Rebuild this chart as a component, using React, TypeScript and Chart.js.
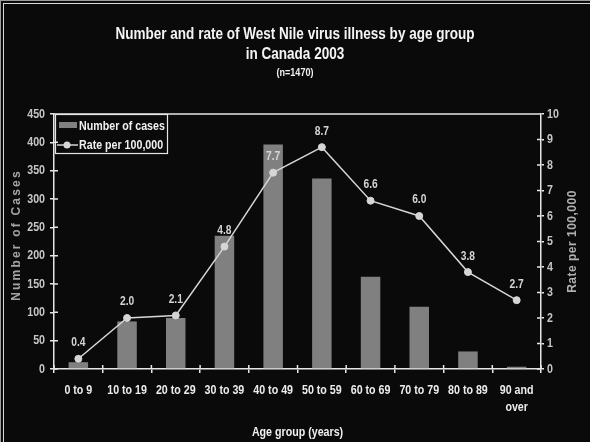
import { useEffect, useRef } from 'react';
import { Chart, registerables } from 'chart.js';

Chart.register(...registerables);

// Age groups, case counts and incidence rates (per 100,000)
const ageGroups: (string | string[])[] = [
  '0 to 9',
  '10 to 19',
  '20 to 29',
  '30 to 39',
  '40 to 49',
  '50 to 59',
  '60 to 69',
  '70 to 79',
  '80 to 89',
  ['90 and', 'over'],
];
const caseCounts = [12, 84, 90, 235, 396, 336, 163, 110, 31, 4];
const ratePer100k = [0.4, 2.0, 2.1, 4.8, 7.7, 8.7, 6.6, 6.0, 3.8, 2.7];

const titleLines = ['Number and rate of West Nile virus illness by age group', 'in Canada 2003'];
const subtitleText = '(n=1470)';
const casesAxisTitle = 'Number of Cases';
const rateAxisTitle = 'Rate per 100,000';
const ageAxisTitle = 'Age group (years)';
const legendLabels = ['Number of cases', 'Rate per 100,000'];

const casesMax = 450;
const casesStep = 50;
const rateMax = 10;
const rateStep = 1;

const SANS = '"Liberation Sans", Arial, sans-serif';
// horizontal squeeze applied to canvas text to get a narrow face
const NARROW_FACTOR = 0.82;
const BG = '#0a0a0a';
const AXIS = '#e6e6e6';
const BAR = '#808080';
const LINE = '#d6d6d6';
const TICK_TEXT = '#c6c6c6';
const LABEL_TEXT = '#ececec';

// Draws every fillText condensed, through the maxWidth argument
function useNarrowText(ctx: any) {
  if (ctx.__narrowText) return;
  ctx.__narrowText = true;
  const base = ctx.fillText.bind(ctx);
  ctx.fillText = (text: string, x: number, y: number, maxWidth?: number) => {
    const f = ctx.textSqueeze ?? NARROW_FACTOR;
    const w = ctx.measureText(text).width * f;
    base(text, x, y, maxWidth == null ? w : Math.min(maxWidth, w));
  };
}

// Frame line on top of the plot plus tick marks that cross into the plot area
const axisFrame = {
  id: 'axisFrame',
  afterDraw(chart: any) {
    const { ctx, chartArea: a, scales } = chart;
    ctx.save();
    ctx.strokeStyle = AXIS;
    ctx.lineWidth = 1.5;
    ctx.beginPath();
    ctx.moveTo(a.left, a.top);
    ctx.lineTo(a.right, a.top);
    for (let i = 0; i <= ageGroups.length; i++) {
      const px = scales.x.getPixelForValue(i - 0.5);
      ctx.moveTo(px, a.bottom);
      ctx.lineTo(px, a.bottom - 4);
    }
    for (let v = 0; v <= casesMax; v += casesStep) {
      const py = scales.y.getPixelForValue(v);
      ctx.moveTo(a.left, py);
      ctx.lineTo(a.left + 4, py);
    }
    for (let v = 0; v <= rateMax; v += rateStep) {
      const py = scales.rate.getPixelForValue(v);
      ctx.moveTo(a.right, py);
      ctx.lineTo(a.right - 4, py);
    }
    ctx.stroke();
    ctx.restore();
  },
};

// Rate values written above each point of the line
const rateLabels = {
  id: 'rateLabels',
  afterDatasetsDraw(chart: any) {
    const { ctx } = chart;
    const meta = chart.getDatasetMeta(0);
    ctx.save();
    ctx.fillStyle = '#d4d4d4';
    ctx.font = `bold 12.5px ${SANS}`;
    ctx.textAlign = 'center';
    ctx.textBaseline = 'middle';
    meta.data.forEach((pt: any, i: number) => {
      ctx.fillText(ratePer100k[i].toFixed(1), pt.x, pt.y - 16);
    });
    ctx.restore();
  },
};

// Boxed legend in the upper-left corner of the plot
const boxedLegend = {
  id: 'boxedLegend',
  afterDraw(chart: any) {
    const { ctx, chartArea: a } = chart;
    const x0 = a.left + 1;
    const y0 = a.top;
    ctx.save();
    ctx.strokeStyle = AXIS;
    ctx.lineWidth = 1.2;
    ctx.strokeRect(x0 + 0.5, y0 + 0.5, 112, 39);

    ctx.fillStyle = BAR;
    ctx.fillRect(x0 + 4, y0 + 8, 18, 6);

    ctx.strokeStyle = LINE;
    ctx.lineWidth = 1.5;
    ctx.beginPath();
    ctx.moveTo(x0 + 2, y0 + 31);
    ctx.lineTo(x0 + 23, y0 + 31);
    ctx.stroke();
    ctx.fillStyle = LINE;
    ctx.beginPath();
    ctx.arc(x0 + 12, y0 + 31, 3.5, 0, Math.PI * 2);
    ctx.fill();

    ctx.fillStyle = '#f0f0f0';
    ctx.font = `bold 13px ${SANS}`;
    ctx.textAlign = 'left';
    ctx.textBaseline = 'middle';
    ctx.fillText(legendLabels[0], x0 + 24, y0 + 12.5);
    ctx.fillText(legendLabels[1], x0 + 24, y0 + 31);
    ctx.restore();
  },
};

// Rotated titles for both value axes, reading bottom to top
const valueAxisTitles = {
  id: 'valueAxisTitles',
  afterDraw(chart: any) {
    const { ctx, chartArea: a } = chart;
    const cy = (a.top + a.bottom) / 2;
    ctx.save();
    ctx.textSqueeze = 1;
    ctx.textAlign = 'center';
    ctx.textBaseline = 'middle';

    ctx.save();
    ctx.fillStyle = '#a4a4a4';
    ctx.translate(a.left - 37, cy - 6.5);
    ctx.rotate(-Math.PI / 2);
    ctx.font = `bold 12px ${SANS}`;
    ctx.letterSpacing = '2.2px';
    ctx.fillText(casesAxisTitle, 0, 0);
    ctx.restore();

    ctx.save();
    ctx.fillStyle = '#b0b0b0';
    ctx.translate(a.right + 32, cy);
    ctx.rotate(-Math.PI / 2);
    ctx.font = `bold 12px ${SANS}`;
    ctx.letterSpacing = '0.5px';
    ctx.fillText(rateAxisTitle, 0, 0);
    ctx.restore();

    ctx.textSqueeze = undefined;
    ctx.restore();
  },
};

export default function App() {
  const canvasRef = useRef<HTMLCanvasElement | null>(null);

  useEffect(() => {
    const canvas = canvasRef.current;
    if (!canvas) return;
    useNarrowText(canvas.getContext('2d'));
    const tickFont = { family: SANS, size: 13, weight: 'bold' as const };

    const chart = new Chart(canvas, {
      type: 'bar',
      data: {
        labels: ageGroups as any,
        datasets: [
          {
            type: 'line',
            label: legendLabels[1],
            data: ratePer100k,
            yAxisID: 'rate',
            borderColor: LINE,
            borderWidth: 1.5,
            pointRadius: 3.5,
            pointBackgroundColor: LINE,
            pointBorderColor: LINE,
            pointBorderWidth: 1,
            tension: 0,
            order: 0,
          } as any,
          {
            type: 'bar',
            label: legendLabels[0],
            data: caseCounts,
            yAxisID: 'y',
            backgroundColor: BAR,
            borderWidth: 0,
            categoryPercentage: 1,
            barPercentage: 0.4,
            order: 1,
          },
        ],
      },
      options: {
        responsive: false,
        animation: false,
        layout: { padding: 0 },
        plugins: {
          legend: { display: false },
          tooltip: { enabled: false },
          title: {
            display: true,
            text: titleLines,
            color: '#f4f4f4',
            font: { family: SANS, size: 16.5, weight: 'bold', lineHeight: '20px' as any },
            padding: { top: 24, bottom: 3 },
          },
          subtitle: {
            display: true,
            text: subtitleText,
            color: '#f0f0f0',
            font: { family: SANS, size: 11, weight: 'bold', lineHeight: '12px' as any },
            padding: { top: 0, bottom: 35 },
          },
        },
        scales: {
          x: {
            type: 'category',
            offset: true,
            grid: {
              offset: true,
              drawOnChartArea: false,
              drawTicks: true,
              tickLength: 4,
              color: AXIS,
              lineWidth: 1.5,
            },
            border: { display: true, color: AXIS, width: 1.5 },
            ticks: {
              color: LABEL_TEXT,
              font: { ...tickFont, lineHeight: '17px' as any },
              padding: 9,
              maxRotation: 0,
              autoSkip: false,
            },
            title: {
              display: true,
              text: ageAxisTitle,
              color: '#f0f0f0',
              font: { family: SANS, size: 13, weight: 'bold', lineHeight: '13px' as any },
              padding: { top: 0, bottom: 3 },
            },
            afterFit: (s: any) => {
              s.height = 73;
            },
          },
          y: {
            type: 'linear',
            position: 'left',
            min: 0,
            max: casesMax,
            grid: { drawOnChartArea: false, tickLength: 4, color: AXIS, lineWidth: 1.5 },
            border: { display: true, color: AXIS, width: 1.5 },
            ticks: { stepSize: casesStep, color: TICK_TEXT, font: tickFont, padding: 5 },
            afterFit: (s: any) => {
              s.width = 54;
            },
          },
          rate: {
            type: 'linear',
            position: 'right',
            min: 0,
            max: rateMax,
            grid: { drawOnChartArea: false, tickLength: 3, color: AXIS, lineWidth: 1.5 },
            border: { display: true, color: AXIS, width: 1.5 },
            ticks: { stepSize: rateStep, color: TICK_TEXT, font: tickFont, padding: 3 },
            afterFit: (s: any) => {
              s.width = 49;
            },
          },
        },
      },
      plugins: [axisFrame, rateLabels, boxedLegend, valueAxisTitles],
    });

    return () => {
      chart.destroy();
    };
  }, []);

  return (
    <div
      style={{
        position: 'fixed',
        left: 0,
        top: 0,
        width: 590,
        height: 442,
        background: BG,
        overflow: 'hidden',
      }}
    >
      <div
        style={{
          position: 'absolute',
          left: 0,
          top: 0,
          width: 620,
          height: 470,
          border: '1px solid #9a9a9a',
        }}
      />
      <div
        style={{
          position: 'absolute',
          left: 3,
          top: 3,
          width: 620,
          height: 470,
          border: '1px solid #d8d8d8',
        }}
      />
      <canvas
        ref={canvasRef}
        width={590}
        height={442}
        style={{ position: 'absolute', left: 0, top: 0, width: 590, height: 442 }}
      />
    </div>
  );
}
